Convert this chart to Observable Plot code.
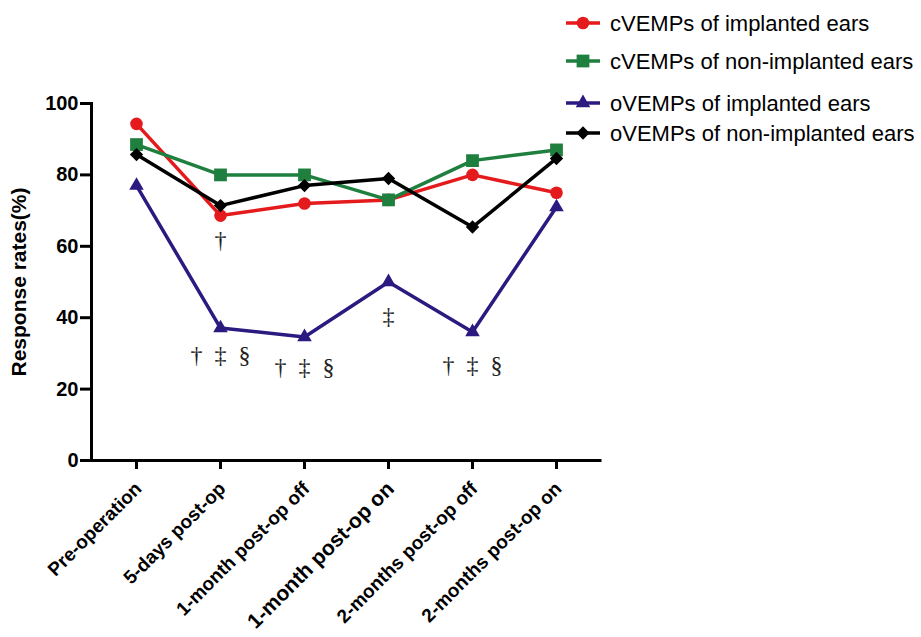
<!DOCTYPE html>
<html>
<head>
<meta charset="utf-8">
<script src="https://cdn.jsdelivr.net/npm/d3@7"></script>
<script src="https://cdn.jsdelivr.net/npm/@observablehq/plot@0.6"></script>
<style>
  html, body { margin: 0; padding: 0; background: #fff; }
  #wrap { position: relative; width: 921px; height: 637px; overflow: hidden; }
  #legend { position: absolute; left: 0; top: 0; }
</style>
</head>
<body>
<div id="wrap"></div>
<script>
const categories = ["Pre-operation", "5-days post-op", "1-month post-op off", "1-month post-op on", "2-months post-op off", "2-months post-op on"];
const seriesNames = ["cVEMPs of implanted ears", "cVEMPs of non-implanted ears", "oVEMPs of implanted ears", "oVEMPs of non-implanted ears"];
const seriesColors = ["#e41a1c", "#1f7f3e", "#2c1a80", "#000000"];
const seriesSymbols = ["circle", "square", "triangle", "diamond2"];
const cVempImplanted = [94.3, 68.6, 72.0, 73.0, 80.0, 75.0];
const cVempNonImplanted = [88.5, 80.0, 80.0, 73.0, 84.0, 87.0];
const oVempImplanted = [77.0, 37.1, 34.6, 50.0, 36.0, 71.0];
const oVempNonImplanted = [85.7, 71.4, 77.0, 79.0, 65.4, 84.6];
const yTicks = [0, 20, 40, 60, 80, 100];
const noteCategories = ["5-days post-op", "5-days post-op", "1-month post-op off", "1-month post-op on", "2-months post-op off"];
const noteValues = [61.6, 29.4, 26.0, 40.3, 26.6];
const noteTexts = ["†", "†\u00a0\u00a0‡\u00a0\u00a0§", "†\u00a0\u00a0‡\u00a0\u00a0§", "‡", "†\u00a0\u00a0‡\u00a0\u00a0§"];

const seriesValues = [cVempImplanted, cVempNonImplanted, oVempImplanted, oVempNonImplanted];
const rows = [];
seriesNames.forEach((name, i) => {
  categories.forEach((c, j) => rows.push({series: name, category: c, value: seriesValues[i][j]}));
});
const notes = noteCategories.map((c, i) => ({category: c, value: noteValues[i], text: noteTexts[i]}));

const drawOrder = [0, 2, 1, 3];
const dotR = {circle: 6.3, square: 7.2, triangle: 5.4, diamond2: 6};

const seriesMarks = [];
drawOrder.forEach(i => {
  const data = rows.filter(d => d.series === seriesNames[i]);
  seriesMarks.push(Plot.line(data, {x: "category", y: "value", stroke: seriesColors[i], strokeWidth: 3.5}));
  seriesMarks.push(Plot.dot(data, {x: "category", y: "value", fill: seriesColors[i], stroke: "none", symbol: () => seriesSymbols[i], r: dotR[seriesSymbols[i]]}));
});

const chart = Plot.plot({
  width: 921,
  height: 637,
  marginLeft: 91,
  marginRight: 321,
  marginTop: 103,
  marginBottom: 177,
  style: {fontFamily: "'Liberation Sans', Arial, sans-serif", fontWeight: "bold", background: "#fff", color: "#000"},
  x: {type: "point", domain: categories, padding: 0.5, axis: null},
  y: {domain: [0, 100], axis: null},
  symbol: {type: "identity"},
  marks: [
    Plot.axisY({ticks: yTicks, tickSize: 11, tickPadding: 2, fontSize: 20, strokeWidth: 3, label: null}),
    Plot.text(["Response rates(%)"], {frameAnchor: "left", dx: -80, rotate: -90, text: d => d, fontSize: 21, textAnchor: "middle", lineAnchor: "top"}),
    Plot.axisX({ticks: categories, tickSize: 9, strokeWidth: 3, tickFormat: () => "", label: null}),
    Plot.text(categories, {x: d => d, text: d => d, frameAnchor: "bottom", dy: 25, dx: 2, rotate: -45, textAnchor: "end", lineAnchor: "middle", fontSize: d => d === "1-month post-op on" ? 21 : 19}),
    Plot.ruleY([0], {strokeWidth: 3, strokeLinecap: "square"}),
    Plot.frame({anchor: "left", strokeWidth: 3, strokeLinecap: "square"}),
    ...seriesMarks,
    Plot.text(notes, {x: "category", y: "value", text: "text", fontFamily: "'Liberation Serif', 'DejaVu Serif', serif", fontWeight: "normal", fontSize: 24, fill: "#222"})
  ]
});

const wrap = document.getElementById("wrap");
wrap.appendChild(chart);

// Legend (built from the series arrays)
const legendRowsY = [23, 61, 103, 133];
const legend = d3.create("svg").attr("id", "legend").attr("width", 921).attr("height", 150)
  .style("font-family", "'Liberation Sans', Arial, sans-serif");
seriesNames.forEach((name, i) => {
  const g = legend.append("g").attr("transform", `translate(566,${legendRowsY[i]})`);
  g.append("line").attr("x1", 0).attr("x2", 34).attr("y1", 0).attr("y2", 0).attr("stroke", seriesColors[i]).attr("stroke-width", 3.5);
  const symType = {circle: d3.symbolCircle, square: d3.symbolSquare, triangle: d3.symbolTriangle, diamond2: d3.symbolDiamond2}[seriesSymbols[i]];
  const r = dotR[seriesSymbols[i]];
  g.append("path").attr("transform", "translate(17,0)").attr("d", d3.symbol(symType, Math.PI * r * r)()).attr("fill", seriesColors[i]);
  g.append("text").attr("x", 44).attr("y", 0).attr("dy", "0.35em").attr("font-size", 22).attr("fill", "#000").text(name);
});
wrap.appendChild(legend.node());
</script>
</body>
</html>
